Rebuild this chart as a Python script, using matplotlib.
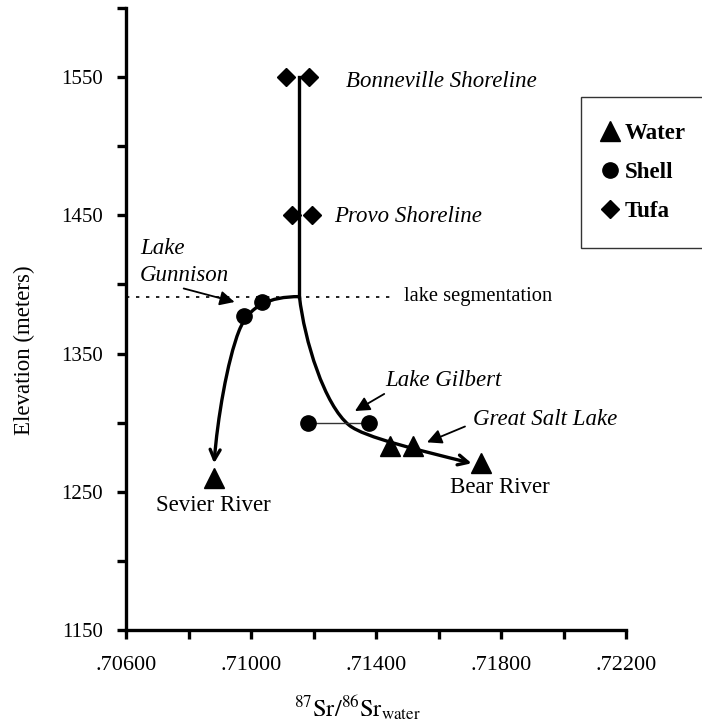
import matplotlib
matplotlib.use("Agg")
import matplotlib.pyplot as plt
from matplotlib.path import Path
from matplotlib.patches import FancyArrowPatch
from matplotlib.lines import Line2D

plt.rcParams['font.family'] = ['Liberation Serif', 'DejaVu Serif']
plt.rcParams['mathtext.fontset'] = 'stix'

# water samples (triangles)
water_x = [0.70882, 0.71446, 0.71517, 0.71735]
water_y = [1260, 1283, 1283, 1271]

# shell samples (circles)
gunnison_x = [0.70978, 0.71036]
gunnison_y = [1377, 1387]
gilbert_x = [0.71183, 0.71379]
gilbert_y = [1300, 1300]

# tufa samples (diamonds)
tufa_x = [0.71113, 0.71187, 0.71132, 0.71196]
tufa_y = [1550, 1550, 1450, 1450]

# schematic evolution path (vertical stem + two branches, cubic bezier control points)
stem_x = [0.71155, 0.71155]
stem_y = [1550, 1391.2]
segmentation_y = 1391.2

gunnison_path = [(0.71155, 1391.2), (0.71059, 1391.2), (0.70994, 1384.7), (0.70962, 1366.6),
                 (0.70924, 1344.9), (0.70892, 1301.6), (0.70882, 1270.6)]
bear_path = [(0.71155, 1391.2), (0.71171, 1359.4), (0.71235, 1312.5), (0.71315, 1298.0),
             (0.71363, 1289.4), (0.71539, 1280.0), (0.71706, 1270.6)]

xticks = [0.706, 0.708, 0.710, 0.712, 0.714, 0.716, 0.718, 0.720, 0.722]
xticklabels = ['.70600', '', '.71000', '', '.71400', '', '.71800', '', '.72200']
yticks = [1150, 1200, 1250, 1300, 1350, 1400, 1450, 1500, 1550, 1600]
yticklabels = ['1150', '', '1250', '', '1350', '', '1450', '', '1550', '']

fig = plt.figure(figsize=(7.02, 7.23), dpi=100)
ax = fig.add_axes([126 / 702, 1 - 630 / 723, 500 / 702, 622 / 723])
ax.set_xlim(0.706, 0.722)
ax.set_ylim(1150, 1600)

for s in ['top', 'right']:
    ax.spines[s].set_visible(False)
for s in ['left', 'bottom']:
    ax.spines[s].set_linewidth(2.4)

ax.set_xticks(xticks)
ax.set_xticklabels(xticklabels)
ax.set_yticks(yticks)
ax.set_yticklabels(yticklabels)
ax.tick_params(direction='out', length=6.5, width=2.4)
ax.tick_params(axis='x', labelsize=16, pad=12)
ax.tick_params(axis='y', labelsize=15, pad=10)

ax.set_ylabel('Elevation (meters)', fontsize=16.5)
ax.yaxis.set_label_coords(-0.182, 0.45)
fig.text(357 / 702, 1 - 717 / 723, r'$^{87}\mathrm{Sr}/^{86}\mathrm{Sr}_{\mathrm{water}}$',
         fontsize=17.5, ha='center', va='baseline')

# lake segmentation level
ax.plot([0.706, 0.71459], [segmentation_y, segmentation_y], ls=(0, (2, 4)), color='black', lw=1.2)
ax.text(0.71491, segmentation_y, 'lake segmentation', fontsize=14.8, va='center')

# stem
ax.plot(stem_x, stem_y, color='black', lw=2.4, zorder=2)

codes = [Path.MOVETO, Path.CURVE4, Path.CURVE4, Path.CURVE4, Path.CURVE4, Path.CURVE4, Path.CURVE4]
for pts in (gunnison_path, bear_path):
    arr = FancyArrowPatch(path=Path(pts, codes), arrowstyle='->', mutation_scale=18,
                          lw=2.4, color='black', transform=ax.transData, zorder=2)
    ax.add_patch(arr)

ax.plot(gilbert_x, gilbert_y, color='#333333', lw=1.0, zorder=2)

ax.plot(water_x, water_y, ls='none', marker='^', ms=15, color='black', zorder=3)
ax.plot(gunnison_x + gilbert_x, gunnison_y + gilbert_y, ls='none', marker='o', ms=11,
        color='black', zorder=3)
ax.plot(tufa_x, tufa_y, ls='none', marker='D', ms=8.7, color='black', zorder=3)

# labels
arrow_style = dict(arrowstyle='-|>', lw=1.3, color='black', mutation_scale=22)
ax.text(0.71305, 1547, 'Bonneville Shoreline', style='italic', fontsize=16.5, va='center')
ax.text(0.71267, 1449, 'Provo Shoreline', style='italic', fontsize=16.5, va='center')
ax.text(0.70645, 1425.8, 'Lake', style='italic', fontsize=16.5, va='center')
ax.text(0.70645, 1406.3, 'Gunnison', style='italic', fontsize=16.5, va='center')
ax.annotate('', xy=(0.70956, 1386.8), xytext=(0.70776, 1397.6), arrowprops=arrow_style)
ax.text(0.71430, 1330.5, 'Lake Gilbert', style='italic', fontsize=16.5, va='center')
ax.annotate('', xy=(0.71325, 1307.4), xytext=(0.71434, 1321.8), arrowprops=arrow_style)
ax.text(0.71709, 1302.3, 'Great Salt Lake', style='italic', fontsize=16.5, va='center')
ax.annotate('', xy=(0.71555, 1285.0), xytext=(0.71693, 1298.0), arrowprops=arrow_style)
ax.text(0.71796, 1253, 'Bear River', fontsize=16.5, ha='center', va='center')
ax.text(0.70880, 1240.3, 'Sevier River', fontsize=16.5, ha='center', va='center')

handles = [Line2D([], [], ls='none', marker='^', ms=15, color='black'),
           Line2D([], [], ls='none', marker='o', ms=11, color='black'),
           Line2D([], [], ls='none', marker='D', ms=8.7, color='black')]
leg = fig.legend(handles, ['Water', 'Shell', 'Tufa'], loc='upper left',
                 bbox_to_anchor=(581 / 702, 1 - 97 / 723, 130 / 702, 0.0), mode='expand',
                 prop={'weight': 'bold', 'size': 16.5}, frameon=True, fancybox=False,
                 edgecolor='black', handlelength=0.3, handletextpad=0.5,
                 labelspacing=0.8, borderpad=1.12, borderaxespad=0)
leg.get_frame().set_linewidth(1.0)

fig.savefig('out.png', dpi=100)
